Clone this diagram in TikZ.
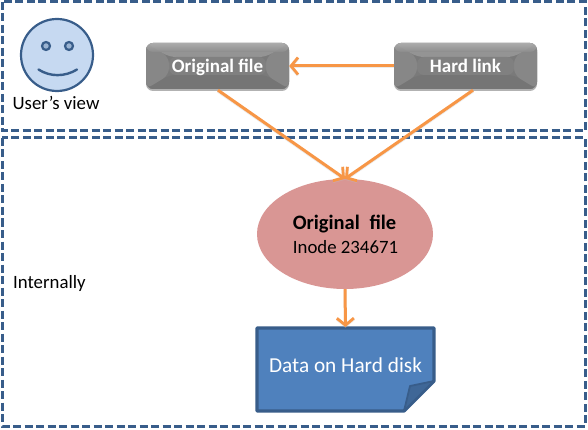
\documentclass[tikz,border=0pt]{standalone}
\usepackage{fontspec}
\setmainfont{Carlito}
\usetikzlibrary{arrows.meta,shapes.geometric,calc,shadows,fadings}
\definecolor{panelblue}{HTML}{385D8A}
\definecolor{arrowor}{HTML}{F79646}
\definecolor{facefill}{HTML}{C6D9F1}
\definecolor{pinkfill}{HTML}{D99694}
\definecolor{docblue}{HTML}{4F81BD}
\definecolor{folddark}{HTML}{3F6797}
\tikzset{
  panel/.style={draw=panelblue,line width=3pt,dash pattern=on 8pt off 3.5pt},
  conn/.style={draw=arrowor,line width=3pt,-{Straight Barb[length=7pt,width=17pt,line width=2.8pt]},
    preaction={draw=black!25,line width=3pt,transform canvas={yshift=-1pt},opacity=.3}},
  bevelbox/.style={rounded corners=7pt,minimum width=143pt,minimum height=46pt,inner sep=0pt,
    font=\fontsize{19}{21}\selectfont\bfseries,text=white,
    fill=black!52,
    drop shadow={shadow xshift=0pt,shadow yshift=-2pt,opacity=.3,fill=black},
    path picture={
      \coordinate (sw) at (path picture bounding box.south west);
      \coordinate (ne) at (path picture bounding box.north east);
      \coordinate (nw) at (sw|-ne);
      \coordinate (se) at (ne|-sw);
      \fill[black!54] (sw) -- ($(sw)+(23pt,14pt)$) -- ($(se)+(-23pt,14pt)$) -- (se) -- cycle;
      \fill[black!47] (nw) -- ($(nw)+(23pt,-14pt)$) -- ($(sw)+(23pt,14pt)$) -- (sw) -- cycle;
      \fill[black!47] (ne) -- ($(ne)+(-23pt,-14pt)$) -- ($(se)+(-23pt,14pt)$) -- (se) -- cycle;
      \fill[black!42] (nw) -- ($(nw)+(23pt,-14pt)$) -- ($(ne)+(-23pt,-14pt)$) -- (ne) -- cycle;
      \fill[black!50] ($(nw)+(23pt,-14pt)$) rectangle ($(se)+(-23pt,14pt)$);
      \shade[top color=black!30,bottom color=black!45,opacity=.8] ($(nw)+(0,0)$) rectangle ($(ne)+(0,-9pt)$);
    }},
  plain/.style={font=\fontsize{18.8}{21}\selectfont,text=black,inner sep=0pt},
}
\begin{document}
\begin{tikzpicture}[x=1pt,y=-1pt]
\useasboundingbox (0,0) rectangle (588,430);
\fill[white] (0,0) rectangle (588,430);
\draw[panel] (2,2) rectangle (585,131);
\draw[panel] (2,138) rectangle (585,426);
% face
\node[circle,draw=panelblue,line width=2.2pt,fill=facefill,minimum size=72pt,inner sep=0pt] (face) at (57,55) {};
\node[circle,draw=panelblue,line width=2.2pt,fill=facefill!70!panelblue,minimum size=8pt,inner sep=0pt] (eyeL) at (46,46) {};
\node[circle,draw=panelblue,line width=2.2pt,fill=facefill!70!panelblue,minimum size=8pt,inner sep=0pt] (eyeR) at (69,46) {};
\draw[panelblue,line width=2.4pt,line cap=round] (38.5,69.5) .. controls (50,77) and (65,77) .. (77,69.5);
\node[plain] (uview) at (56,103) {User’s view};
\node[plain,anchor=west] (internal) at (13,283) {Internally};
% boxes
\node[bevelbox,text depth=0pt] (orig) at (217.5,66) {Original file};
\node[bevelbox,text depth=0pt] (hard) at (465.5,66) {Hard link};
% ellipse
\node[ellipse,fill=pinkfill,minimum width=176pt,minimum height=110pt,inner sep=0pt] (ino) at (345,234) {};
\node[inner sep=0pt,font=\fontsize{20.5}{23}\selectfont\bfseries] (inoA) at (344.5,224.5) {Original\hspace{5pt} file};
\node[inner sep=0pt,font=\fontsize{18.8}{23}\selectfont] (inoB) at (345.5,247) {Inode 234671};
% document
\fill[docblue,draw=panelblue,line width=3.2pt,line join=round] (257,328) -- (434,328) -- (434,381) -- (404,411) -- (257,411) -- cycle;
\node[inner sep=0pt,text=white,font=\fontsize{21.3}{24}\selectfont] (doc) at (345.5,365) {Data on Hard disk};
\fill[folddark,draw=panelblue,line width=1.8pt,line join=round] (434,381) -- (410,386) -- (404,411) -- cycle;
\coordinate (docTop) at (345.5,327);
% connectors
\draw[conn] (hard.west) -- (orig.east);
\draw[conn] ($(orig.south)+(0.5,1)$) -- (ino.north);
\draw[conn] ($(hard.south)+(7.5,1)$) -- (ino.north);
\draw[conn] (ino.south) -- (docTop);
\end{tikzpicture}
\end{document}
